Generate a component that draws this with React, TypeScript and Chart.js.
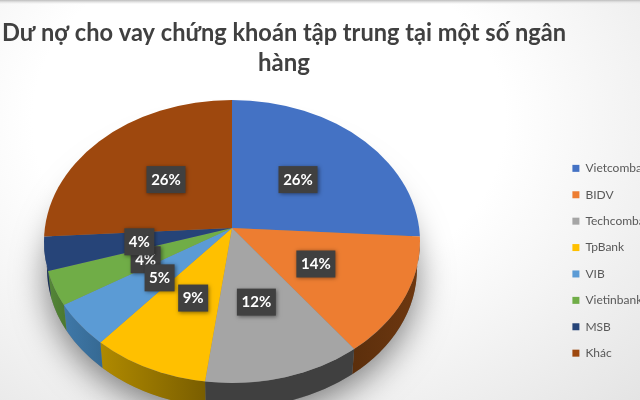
import React, { useEffect, useRef } from "react";
import { Chart, registerables } from "chart.js";

Chart.register(...registerables);

const titleLines = ["Dư nợ cho vay chứng khoán tập trung tại một số ngân", "hàng"];
const banks = ["Vietcombank", "BIDV", "Techcombank", "TpBank", "VIB", "Vietinbank", "MSB", "Khác"];
const shares = [26, 14, 12, 9, 5, 4, 4, 26];
const topColors = ["#4472C4", "#ED7D31", "#A5A5A5", "#FFC000", "#5B9BD5", "#70AD47", "#264478", "#9E480E"];
const sideLeft = ["#2E4F87", "#5C2F0C", "#404040", "#B08A00", "#3F78A8", "#55873A", "#1A3055", "#6E320A"];
const sideRight = ["#2E4F87", "#6E3810", "#404040", "#7A5E00", "#366A94", "#4C7A30", "#1A3055", "#6E320A"];
const labelOrder = [0, 1, 2, 3, 5, 4, 6, 7];

// Hub of the pie and the ellipse of its tilted top face
const HUB_X = 232;
const HUB_Y = 228;
const R = 188;
const ELL_Y = 241.5;
const ELL_RY = 141.5;
const DEPTH = 27;
const BASE_RX = 185;
const RAY_K = 0.72;
const OVERSCAN = 1.35;
// perspective terms
const P = 0.0954;
const A = 187;
const H = 146;
// legend sits a little left of its layout slot
const LEGEND_SHIFT = 8;

const project = (X: number, Y: number) => ({
  x: HUB_X + (A * X) / (1 - P * Y),
  y: HUB_Y + (H * Y) / (1 - P * Y),
});

const pie3d = {
  id: "pie3d",
  afterLayout(chart: any) {
    chart.legend.left -= LEGEND_SHIFT;
  },
  beforeDatasetDraw(chart: any) {
    const ctx: CanvasRenderingContext2D = chart.ctx;
    const arcs: any[] = chart.getDatasetMeta(0).data;
    const ax = arcs[0].x;
    const ay = arcs[0].y;
    const baseRy = (ELL_RY * BASE_RX) / R;

    // soft shadow under the pie
    ctx.save();
    ctx.shadowColor = "rgba(0,0,0,0.5)";
    ctx.shadowBlur = 34;
    ctx.shadowOffsetY = 10;
    ctx.fillStyle = "#808080";
    ctx.beginPath();
    ctx.ellipse(HUB_X, ELL_Y + DEPTH, BASE_RX, baseRy, 0, 0, Math.PI * 2);
    ctx.fill();
    ctx.restore();

    // side wall of each slice
    const rimParam = (angle: number) => {
      const dirX = Math.cos(angle);
      const dirY = Math.sin(angle) * RAY_K;
      // where the slice's edge ray leaves the top-face ellipse
      const a = (dirX * dirX) / (R * R) + (dirY * dirY) / (ELL_RY * ELL_RY);
      const off = HUB_Y - ELL_Y;
      const b = (2 * dirY * off) / (ELL_RY * ELL_RY);
      const c = (off * off) / (ELL_RY * ELL_RY) - 1;
      const s = (-b + Math.sqrt(b * b - 4 * a * c)) / (2 * a);
      const t = Math.atan2((off + s * dirY) / ELL_RY, (s * dirX) / R);
      return t < -Math.PI / 2 ? t + Math.PI * 2 : t;
    };
    arcs.forEach((arc, i) => {
      const a0 = Math.max(rimParam(arc.startAngle), 0);
      const a1 = Math.min(rimParam(arc.endAngle), Math.PI);
      if (a1 <= a0) return;
      const g = ctx.createLinearGradient(HUB_X + R * Math.cos(a1), 0, HUB_X + R * Math.cos(a0), 0);
      g.addColorStop(0, sideLeft[i]);
      g.addColorStop(1, sideRight[i]);
      ctx.fillStyle = g;
      ctx.beginPath();
      ctx.ellipse(HUB_X, ELL_Y, R, ELL_RY, 0, a0, a1);
      ctx.ellipse(HUB_X, ELL_Y + DEPTH, BASE_RX, baseRy, 0, a1, a0, true);
      ctx.closePath();
      ctx.fill();
    });

    // top face: library arcs stretched past the rim, clipped to the tilted ellipse
    ctx.save();
    ctx.beginPath();
    ctx.ellipse(HUB_X, ELL_Y, R, ELL_RY, 0, 0, Math.PI * 2);
    ctx.clip();
    ctx.translate(HUB_X, HUB_Y);
    ctx.scale(OVERSCAN, OVERSCAN * RAY_K);
    ctx.translate(-ax, -ay);
    arcs.forEach((arc) => arc.draw(ctx));
    ctx.restore();

    // value labels
    labelOrder.forEach((i) => {
      const c = arcs[i].getCenterPoint();
      const p = project((c.x - ax) / R, (c.y - ay) / R);
      const text = `${shares[i]}%`;
      ctx.save();
      ctx.font = "700 15px Lato";
      const w = Math.round(ctx.measureText(text).width) + 9;
      const h = 27;
      ctx.shadowColor = "rgba(0,0,0,0.45)";
      ctx.shadowBlur = 4;
      ctx.shadowOffsetX = 1;
      ctx.shadowOffsetY = 1;
      ctx.fillStyle = "#404040";
      ctx.fillRect(p.x - w / 2, p.y - h / 2, w, h);
      ctx.shadowColor = "transparent";
      ctx.fillStyle = "#FFFFFF";
      ctx.textAlign = "center";
      ctx.textBaseline = "middle";
      ctx.fillText(text, p.x, p.y + 0.5);
      ctx.restore();
    });
    return false;
  },
};

export default function App() {
  const ref = useRef<HTMLCanvasElement | null>(null);
  useEffect(() => {
    const chart = new Chart(ref.current as HTMLCanvasElement, {
      type: "pie",
      data: {
        labels: banks,
        datasets: [
          {
            data: shares,
            backgroundColor: topColors,
            borderWidth: 0,
            radius: R,
          } as any,
        ],
      },
      options: {
        animation: false,
        responsive: false,
        layout: { padding: { left: 2 } },
        plugins: {
          title: {
            display: true,
            text: titleLines,
            fullSize: false,
            color: "#404040",
            font: { family: "Lato", size: 24, weight: "700", lineHeight: 1.27 },
            padding: { top: 18, bottom: 69 },
          },
          legend: {
            position: "right",
            align: "start",
            fullSize: false,
            maxWidth: 74,
            labels: {
              boxWidth: 7,
              boxHeight: 7,
              padding: 14.4,
              color: "#595959",
              font: { family: "Lato", size: 12 },
            },
          },
          tooltip: { enabled: false },
        },
      },
      plugins: [pie3d],
    } as any);
    return () => chart.destroy();
  }, []);
  return (
    <div
      style={{
        position: "fixed",
        left: 0,
        top: 0,
        width: 640,
        height: 400,
        overflow: "hidden",
        background:
          "linear-gradient(#bdbdbd 0, #e4e4e4 2px, rgba(255,255,255,0) 4px), radial-gradient(ellipse at 42% 30%, #ffffff 45%, #e4e4e4 100%)",
      }}
    >
      <canvas ref={ref} width={640} height={400} style={{ display: "block", width: 640, height: 400, filter: "blur(0.5px)" }} />
    </div>
  );
}
